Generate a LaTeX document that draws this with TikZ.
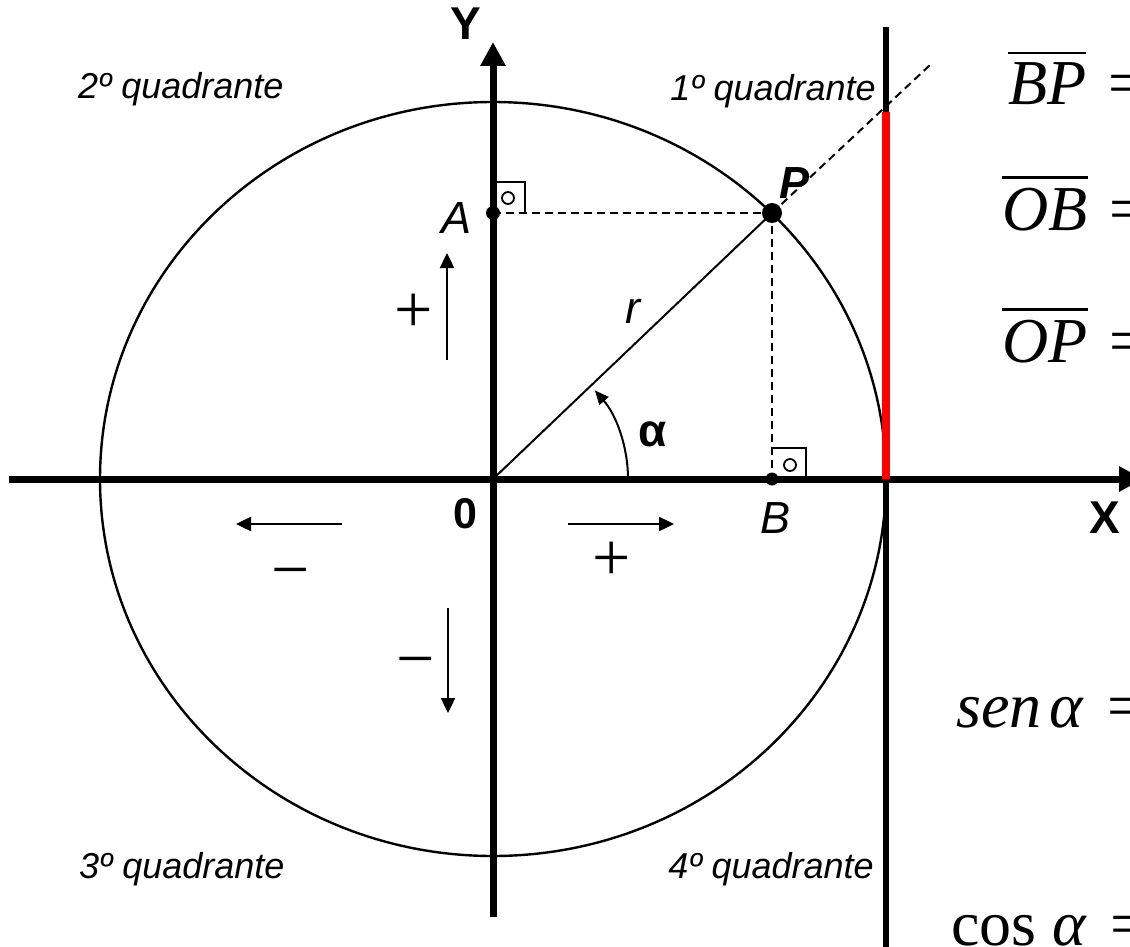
\documentclass[tikz,border=0pt]{standalone}
\usepackage{fontspec}
\setmainfont{Liberation Serif}
\newfontfamily\arial{Liberation Sans}
\usetikzlibrary{arrows.meta,positioning}
\newcommand\barseg[1]{\vbox{\hrule height 2.4pt\kern 9pt\hbox{#1}}}

\begin{document}
\begin{tikzpicture}[x=1pt,y=-1pt,
    axis/.style={line width=7pt,-{Triangle[length=24pt,width=24pt]}},
    sign/.style={line width=2.4pt,-{Triangle[length=15pt,width=14pt]}},
    guide/.style={line width=2pt,dash pattern=on 8pt off 5pt},
    rtbox/.style={line width=1.8pt},
    dot/.style={circle,fill,inner sep=0pt,minimum size=#1},
    quad/.style={font=\arial\itshape\fontsize{36}{40}\selectfont,inner sep=0pt},
    lbl/.style={font=\arial\itshape\fontsize{45}{50}\selectfont,inner sep=0pt,anchor=base},
    axlbl/.style={font=\arial\bfseries\fontsize{46}{50}\selectfont,inner sep=0pt,anchor=base},
    fml/.style={font=\fontsize{64}{70}\selectfont,inner sep=0pt,anchor=base west},
    pm/.style={font=\fontsize{68}{70}\selectfont,inner sep=0pt,anchor=base}
]
    \path[use as bounding box,fill=white] (0,0) rectangle (1130,947);

    % Axes and tangent line
    \coordinate (O) at (493,479);
    \coordinate (xl) at (9,479);
    \coordinate (xr) at (1143,479);
    \coordinate (yb) at (493,917);
    \coordinate (yt) at (493,42);
    \coordinate (tt) at (886,27);
    \coordinate (tb) at (886,960);
    \coordinate (T) at (886,479);
    \coordinate (Q) at (886,112);
    \coordinate (ext) at (930,65);
    \draw[line width=2.4pt] (O) ellipse [x radius=393,y radius=377];
    \draw[axis] (xl) -- (xr);
    \draw[axis] (yb) -- (yt);
    \draw[line width=6pt] (tt) -- (tb);
    \draw[line width=8pt,red] (T) -- (Q);

    % Point P and projections
    \node[dot=20pt] (P) at (772,213) {};
    \node[dot=14pt] (A) at (493,213) {};
    \node[dot=13pt] (B) at (772,479) {};
    \draw[line width=2pt] (O) -- (P.center);
    \draw[guide] (P.center) -- (ext);
    \draw[guide] (A.center) -- (P.center);
    \draw[guide] (P.center) -- (B.center);
    \draw[rtbox] (A.center) ++(0,-31) -- ++(32,0) -- ++(0,31);
    \draw[rtbox] (A.center) ++(15,-15) circle[radius=6];
    \draw[rtbox] (B.center) ++(0,-31) -- ++(34,0) -- ++(0,31);
    \draw[rtbox] (B.center) ++(18,-14) circle[radius=6];
    \draw[line width=2pt,-{Triangle[length=14pt,width=12pt]}] (O) ++(135,0) arc[start angle=0,end angle=-41,radius=135];

    % Labels
    \node[axlbl] (lY) at (466,40) {Y};
    \node[axlbl] (lX) at (1105,533) {X};
    \node[axlbl,font=\arial\bfseries\fontsize{43}{50}\selectfont] (l0) at (465,528) {0};
    \node[lbl] (lA) at (457,233) {A};
    \node[lbl] (lB) at (775,533) {B};
    \node[lbl,font=\arial\bfseries\itshape\fontsize{45}{50}\selectfont] (lP) at (794,198) {P};
    \node[lbl] (lr) at (633,323) {r};
    \node[axlbl] (lal) at (653,446) {α};
    \node[quad,anchor=base west] (q2) at (78,99) {2º quadrante};
    \node[quad,anchor=base east] (q1) at (876,101) {1º quadrante};
    \node[quad,anchor=base west] (q3) at (79,878) {3º quadrante};
    \node[quad,anchor=base east] (q4) at (874,878) {4º quadrante};

    % Sign arrows
    \coordinate (up1) at (447,360);
    \coordinate (up2) at (447,253);
    \coordinate (dn1) at (448,608);
    \coordinate (dn2) at (448,713);
    \coordinate (lf1) at (342,524);
    \coordinate (lf2) at (236,524);
    \coordinate (rt1) at (568,524);
    \coordinate (rt2) at (674,524);
    \draw[sign] (up1) -- (up2);
    \draw[sign] (dn1) -- (dn2);
    \draw[sign] (lf1) -- (lf2);
    \draw[sign] (rt1) -- (rt2);
    \node[pm] (sup) at (414,332) {+};
    \node[pm] (srt) at (612,580) {+};
    \node[pm] (slf) at (291,592) {−};
    \node[pm] (sdn) at (416,681) {−};

    % Formulas
    \node[fml] (bp) at (1008,105) {\barseg{\itshape BP}\hspace{6pt} =};
    \node[fml] (ob) at (1002,230) {\barseg{\itshape OB}\hspace{6pt} =};
    \node[fml] (op) at (1002,362) {\barseg{\itshape OP}\hspace{6pt} =};
    \node[fml] (sen) at (956,727) {\itshape sen\hspace{8pt}α\hspace{4pt} =};
    \node[fml] (cos) at (951,945) {cos \itshape α\hspace{4pt} =};
\end{tikzpicture}
\end{document}
